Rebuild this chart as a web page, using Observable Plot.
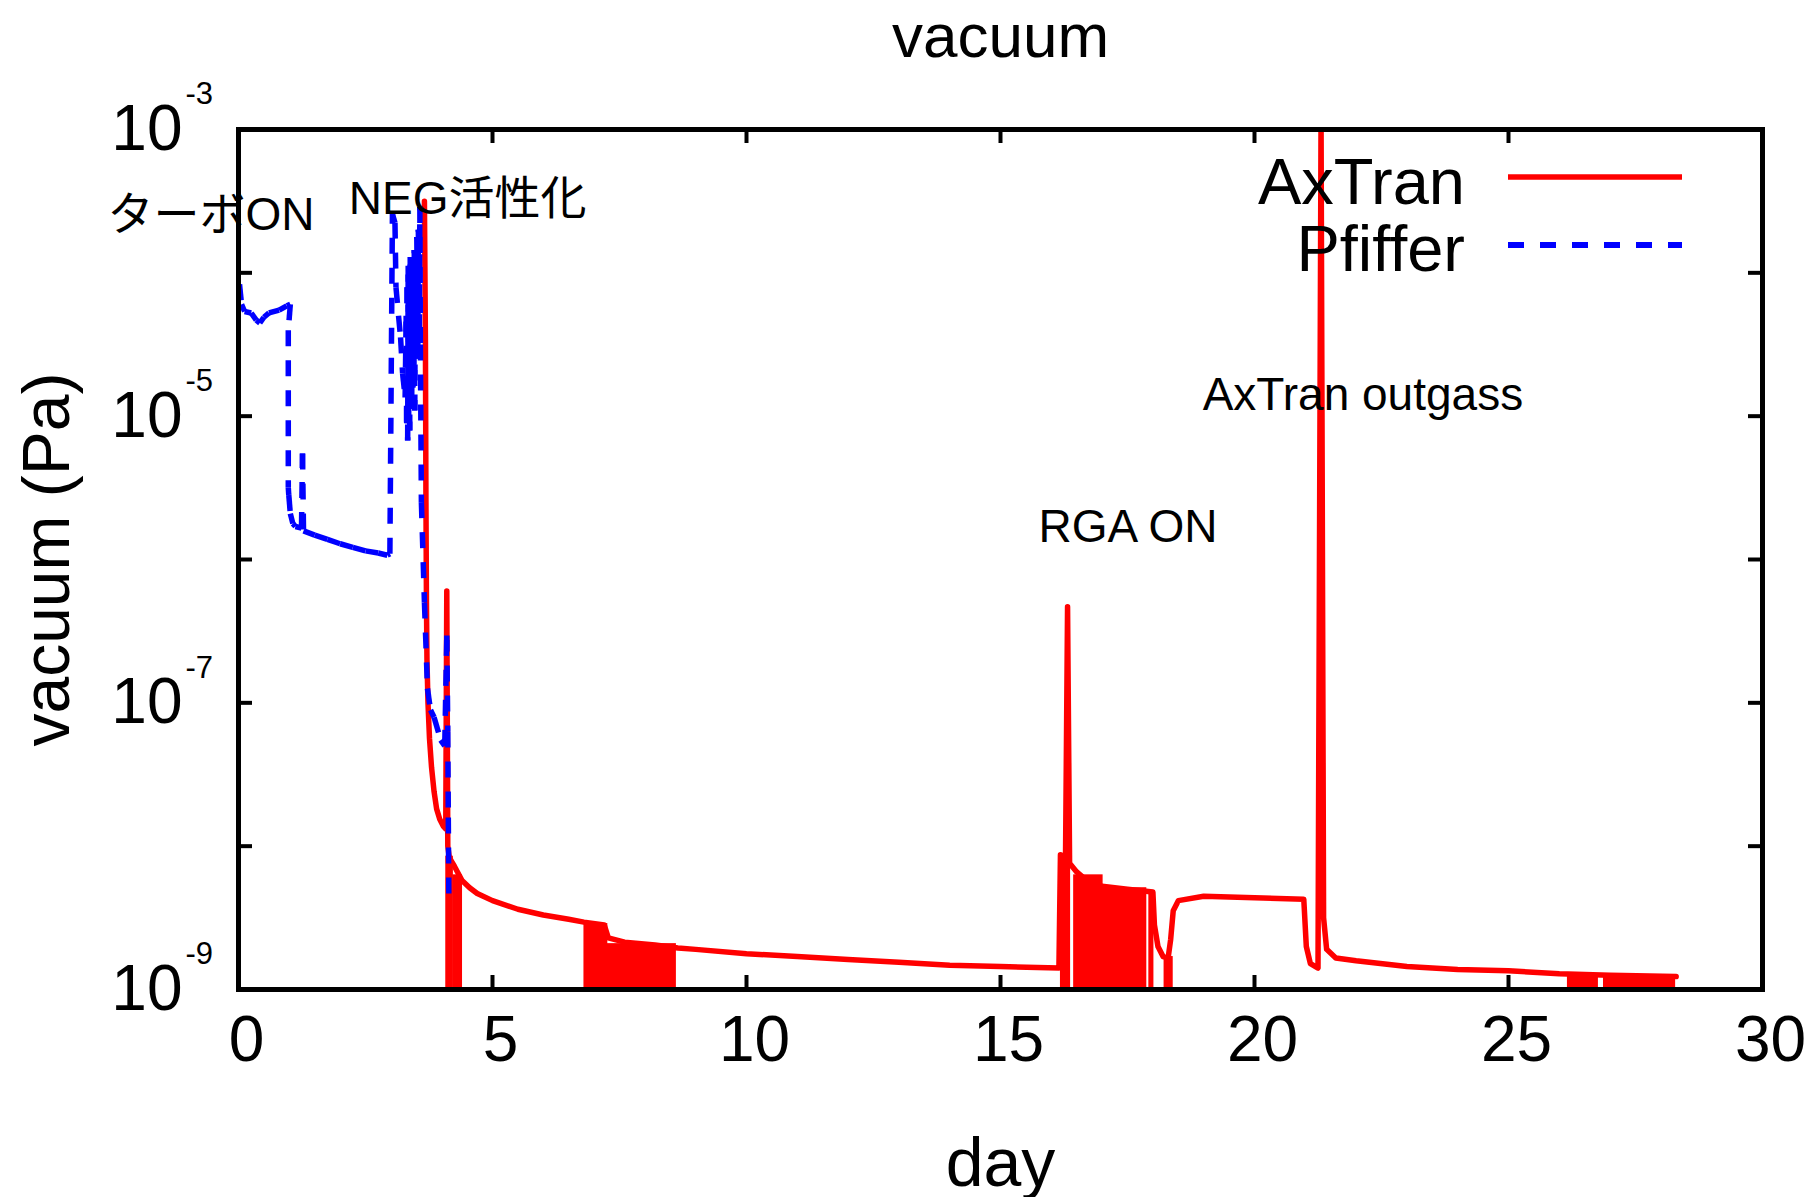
<!DOCTYPE html>
<html>
<head>
<meta charset="utf-8">
<script src="https://cdn.jsdelivr.net/npm/d3@7"></script>
<script src="https://cdn.jsdelivr.net/npm/@observablehq/plot@0.6"></script>
<style>
  html, body { margin: 0; padding: 0; background: #fff; }
  #chart { width: 1812px; height: 1197px; }
</style>
</head>
<body>
<div id="chart"></div>
<script>
// ---------------- data ----------------
const titleText = "vacuum";
const xLabelText = "day";
const yLabelText = "vacuum (Pa)";

const xTicks = [0, 5, 10, 15, 20, 25, 30];
const yTickExps = [-9, -8, -7, -6, -5, -4, -3];
const yLabelExps = [-3, -5, -7, -9];

const seriesNames = ["AxTran", "Pfiffer"];
const seriesColors = ["#ff0000", "#0000ff"];

// AxTran gauge: day and log10(pressure / Pa)
const axTranDay = [3.66, 3.68, 3.69, 3.70, 3.71, 3.73, 3.76, 3.80, 3.85, 3.90, 3.96, 4.03, 4.08, 4.10, 4.12,
  4.15, 4.25, 4.40, 4.55, 4.70, 5.0, 5.5, 6.0, 6.5, 6.8, 7.2, 7.28, 7.6, 8.2, 8.65, 9.0, 10, 11, 12, 13, 14, 15,
  16.15, 16.18, 16.28, 16.32, 16.36, 16.5, 16.7, 17.0, 17.5, 18.0, 18.03, 18.1, 18.2, 18.3, 18.35, 18.4, 18.5,
  19.0, 20.0, 20.97, 21.02, 21.1, 21.25, 21.31, 21.36, 21.42, 21.6, 22, 23, 24, 25, 26, 27, 28.3];
const axTranLog = [-3.50, -4.5, -5.6, -6.3, -6.7, -7.0, -7.25, -7.45, -7.62, -7.74, -7.81, -7.86, -7.88, -6.22, -8.0,
  -8.08, -8.14, -8.24, -8.29, -8.33, -8.38, -8.44, -8.48, -8.51, -8.53, -8.55, -8.64, -8.67, -8.69, -8.71, -8.72, -8.75, -8.77, -8.79, -8.81, -8.83, -8.84,
  -8.85, -8.06, -8.08, -6.33, -8.12, -8.18, -8.24, -8.28, -8.30, -8.32, -8.55, -8.70, -8.77, -8.78, -8.65, -8.45, -8.38,
  -8.35, -8.36, -8.37, -8.70, -8.82, -8.85, -2.90, -8.50, -8.72, -8.78, -8.80, -8.84, -8.86, -8.87, -8.89, -8.90, -8.91];

// AxTran noisy stretches where readings drop to the floor (drawn as solid blocks)
const bandStart = [4.08, 4.22, 6.80, 7.25, 16.18, 16.44, 17.0, 17.92, 18.22, 26.16, 26.87];
const bandEnd   = [4.23, 4.41, 7.27, 8.62, 16.38, 17.02, 17.88, 18.02, 18.40, 26.77, 28.29];
const bandTopLog = [-8.07, -8.2, -8.54, -8.68, -8.07, -8.2, -8.29, -8.32, -8.77, -8.89, -8.91];

// Pfiffer gauge: day and log10(pressure / Pa)
const pfifferDay = [0.02, 0.06, 0.12, 0.25, 0.35, 0.42, 0.5, 0.6, 0.8, 0.95, 1.02, 0.98, 0.98, 0.99, 1.02, 1.07,
  1.12, 1.24, 1.26, 1.28, 1.5, 1.75, 2.0, 2.25, 2.5, 2.75, 2.93, 2.98, 3.03, 3.08, 3.10, 3.15, 3.19, 3.23, 3.28, 3.30,
  3.31, 3.32, 3.33, 3.34, 3.35, 3.36, 3.37, 3.38, 3.39, 3.40, 3.41, 3.42, 3.43, 3.44, 3.45, 3.46, 3.47, 3.48, 3.50,
  3.51, 3.53, 3.54, 3.56, 3.57, 3.58, 3.60, 3.66, 3.72, 3.78, 3.85, 3.98, 4.06, 4.10, 4.12, 4.13, 4.14];
const pfifferLog = [-4.08, -4.22, -4.27, -4.28, -4.33, -4.35, -4.31, -4.28, -4.26, -4.23, -4.22, -4.40, -5.50, -5.55, -5.68, -5.75,
  -5.77, -5.78, -5.26, -5.80, -5.83, -5.86, -5.89, -5.915, -5.94, -5.955, -5.97, -5.96, -3.59, -3.65, -4.10, -4.30, -4.45, -4.70, -4.87, -4.30,
  -5.05, -4.10, -5.17, -3.95, -5.00, -4.20, -5.10, -3.89, -4.95, -4.05, -4.90, -3.95, -4.80, -3.90, -4.70, -3.84, -4.96, -4.10,
  -4.60, -3.75, -4.55, -3.70, -4.40, -3.54, -4.50, -5.60, -6.30, -6.90, -7.05, -7.10, -7.26, -7.30, -6.53, -7.20, -7.80, -8.33];

// annotations: text, day of left edge, log10 pressure of baseline
const noteText = ["ターボON", "NEG活性化", "RGA ON", "AxTran outgass"];
const noteDay = [-2.58, 2.17, 15.75, 18.98];
const noteLog = [-3.70, -3.59, -5.88, -4.96];

// ---------------- tables ----------------
const axTran = axTranDay.map((d, i) => ({day: d, p: 10 ** axTranLog[i]}));
const pfiffer = pfifferDay.map((d, i) => ({day: d, p: 10 ** pfifferLog[i]}));
// consecutive Pfiffer readings as segments (dash pattern restarts at each reading, as in gnuplot)
const pfifferSeg = pfiffer.slice(1).map((b, i) => ({x1: pfiffer[i].day, y1: pfiffer[i].p, x2: b.day, y2: b.p}));
const bands = bandStart.map((s, i) => ({x1: s, x2: bandEnd[i], y1: 1e-9, y2: 10 ** bandTopLog[i]}));
const yTicks = yTickExps.map(e => 10 ** e);
const yLabels = yLabelExps.map(e => ({v: 10 ** e, e}));
const notes = noteText.map((t, i) => ({t, day: noteDay[i], p: 10 ** noteLog[i]}));
const legendItems = seriesNames.map((n, i) => ({name: n, color: seriesColors[i], dash: i === 1 ? "16,16" : null}));

const FONT = "'Liberation Sans', Arial, Helvetica, 'Noto Sans CJK JP', sans-serif";

function legendMark(index, scales, values, dim) {
  const g = d3.create("svg:g");
  const right = dim.width - dim.marginRight;
  const top = dim.marginTop;
  legendItems.forEach((it, i) => {
    const baseY = top + 75 + i * 67;
    const lineY = top + 48 + i * 68;
    g.append("text")
      .attr("x", right - 297).attr("y", baseY)
      .attr("text-anchor", "end")
      .attr("font-size", 65).attr("font-family", FONT)
      .attr("fill", "black")
      .text(it.name);
    g.append("line")
      .attr("x1", right - 254).attr("x2", right - 80)
      .attr("y1", lineY).attr("y2", lineY)
      .attr("stroke", it.color).attr("stroke-width", it.dash ? 6 : 5.5)
      .attr("stroke-dasharray", it.dash);
  });
  return g.node();
}

const chart = Plot.plot({
  width: 1812,
  height: 1197,
  marginLeft: 238,
  marginRight: 50,
  marginTop: 129,
  marginBottom: 208,
  style: {background: "white", fontFamily: FONT, color: "black", overflow: "visible"},
  x: {domain: [0, 30], axis: null},
  y: {type: "log", domain: [1e-9, 1e-3], axis: null},
  marks: [
    // data
    Plot.rect(bands, {x1: "x1", x2: "x2", y1: "y1", y2: "y2", fill: seriesColors[0], clip: true}),
    Plot.line(axTran, {x: "day", y: "p", stroke: seriesColors[0], strokeWidth: 5.5, clip: true}),
    Plot.link(pfifferSeg, {x1: "x1", y1: "y1", x2: "x2", y2: "y2", stroke: seriesColors[1], strokeWidth: 5.5,
      strokeDasharray: "16,14", strokeLinecap: "butt", clip: true}),
    // frame and inward ticks
    Plot.frame({stroke: "black", strokeWidth: 5}),
    Plot.tickX(xTicks, {x: d => d, insetTop: 846, stroke: "black", strokeWidth: 4}),
    Plot.tickX(xTicks, {x: d => d, insetBottom: 846, stroke: "black", strokeWidth: 4}),
    Plot.tickY(yTicks, {y: d => d, insetRight: 1510, stroke: "black", strokeWidth: 4}),
    Plot.tickY(yTicks, {y: d => d, insetLeft: 1510, stroke: "black", strokeWidth: 4}),
    // tick labels
    Plot.text(xTicks, {x: d => d, text: d => String(d), frameAnchor: "bottom", dy: 71, dx: 8, fontSize: 64}),
    Plot.text(yLabels, {y: "v", text: () => "10", frameAnchor: "left", textAnchor: "end", dx: -56, fontSize: 64}),
    Plot.text(yLabels, {y: "v", text: d => "-" + String(-d.e), frameAnchor: "left", textAnchor: "start", dx: -53, dy: -35, fontSize: 31}),
    // titles
    Plot.text([titleText], {text: d => d, frameAnchor: "top", lineAnchor: "bottom", dy: -73, fontSize: 62}),
    Plot.text([xLabelText], {text: d => d, frameAnchor: "bottom", lineAnchor: "bottom", dy: 196, fontSize: 68}),
    Plot.text([yLabelText], {text: d => d, frameAnchor: "left", textAnchor: "middle", rotate: -90, lineAnchor: "bottom", dx: -170, fontSize: 66}),
    // annotations
    Plot.text(notes, {x: "day", y: "p", text: "t", textAnchor: "start", lineAnchor: "bottom", fontSize: 46}),
    // legend
    legendMark
  ]
});
document.getElementById("chart").appendChild(chart);
</script>
</body>
</html>
